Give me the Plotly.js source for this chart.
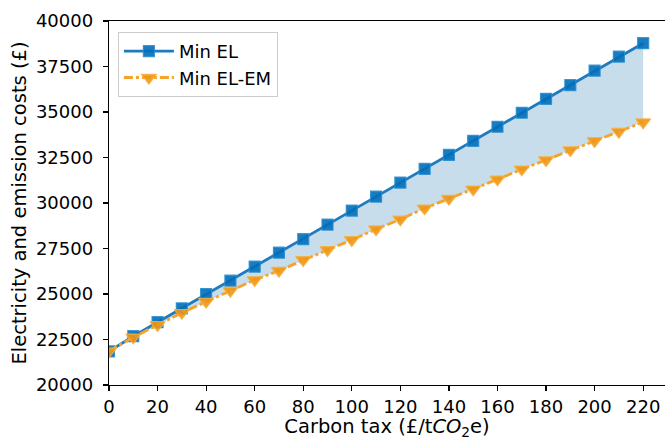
<!DOCTYPE html>
<html>
<head>
<meta charset="utf-8">
<script src="https://cdn.plot.ly/plotly-3.0.1.min.js"></script>
<style>html,body{margin:0;padding:0;background:#fff;}#chart{width:665px;height:440px;}</style>
</head>
<body>
<div id="chart"></div>
<script>
const carbonTax = [0,10,20,30,40,50,60,70,80,90,100,110,120,130,140,150,160,170,180,190,200,210,220];
const minEL = [21850,22680,23450,24210,25000,25730,26500,27270,28010,28810,29580,30350,31120,31870,32640,33410,34190,34960,35720,36480,37270,38040,38780];
const minELEM = [21850,22620,23300,23970,24580,25180,25770,26280,26870,27420,27970,28560,29100,29710,30240,30750,31300,31850,32360,32910,33410,33920,34440];
const yTicks = [20000,22500,25000,27500,30000,32500,35000,37500,40000];
const xTicks = [0,20,40,60,80,100,120,140,160,180,200,220];

const blue = '#1f7bbf';
const orange = '#f5a32a';
const font = {family: 'DejaVu Sans', size: 18, color: '#000'};
const titleFont = {family: 'DejaVu Sans', size: 19.5, color: '#000'};

const traces = [
  {x: carbonTax, y: minEL, mode: 'lines', line: {width: 0, color: 'rgba(0,0,0,0)'}, showlegend: false, hoverinfo: 'skip'},
  {x: carbonTax, y: minELEM, mode: 'lines', line: {width: 0, color: 'rgba(0,0,0,0)'}, fill: 'tonexty', fillcolor: 'rgba(31,119,180,0.25)', showlegend: false, hoverinfo: 'skip'},
  {x: carbonTax, y: minEL, name: 'Min EL', mode: 'lines+markers',
   line: {color: blue, width: 2.8},
   marker: {symbol: 'square', size: 11, color: 'rgba(0,110,185,0.9)', line: {color: 'rgba(40,140,205,0.85)', width: 1.2}}},
  {x: carbonTax, y: minELEM, name: 'Min EL-EM', mode: 'lines+markers',
   line: {color: orange, width: 2.8, dash: 'dashdot'},
   marker: {symbol: 'triangle-down', size: 13, color: 'rgba(238,150,20,0.9)', line: {color: 'rgba(248,175,60,0.85)', width: 1.2}}}
];

const layout = {
  width: 665, height: 440,
  margin: {l: 109, r: 0, t: 21, b: 55},
  paper_bgcolor: '#fff', plot_bgcolor: '#fff',
  font: font,
  showlegend: true,
  legend: {x: 0.016, y: 0.97, xanchor: 'left', yanchor: 'top', traceorder: 'normal', itemwidth: 50,
           bgcolor: 'rgba(255,255,255,0.9)', bordercolor: '#cccccc', borderwidth: 1, font: font, tracegroupgap: 0},
  xaxis: {
    range: [0, 229], tickvals: xTicks, ticktext: xTicks.map(String),
    showgrid: false, zeroline: false, showline: true, linecolor: '#000', linewidth: 1.2, mirror: true,
    ticks: 'outside', ticklen: 5, tickwidth: 1.2, tickcolor: '#000', tickfont: font,
    title: {text: 'Carbon tax (£/t<i>CO</i><sub>2</sub>e)', font: titleFont, standoff: 0}
  },
  yaxis: {
    range: [20000, 40000], tickvals: yTicks, ticktext: yTicks.map(String),
    showgrid: false, zeroline: false, showline: true, linecolor: '#000', linewidth: 1.2, mirror: true,
    ticks: 'outside', ticklen: 5, tickwidth: 1.2, tickcolor: '#000', tickfont: font, ticklabelstandoff: 6,
    title: {text: 'Electricity and emission costs (£)', font: titleFont, standoff: 4}
  }
};

Plotly.newPlot('chart', traces, layout, {displayModeBar: false, staticPlot: true});
</script>
</body>
</html>
